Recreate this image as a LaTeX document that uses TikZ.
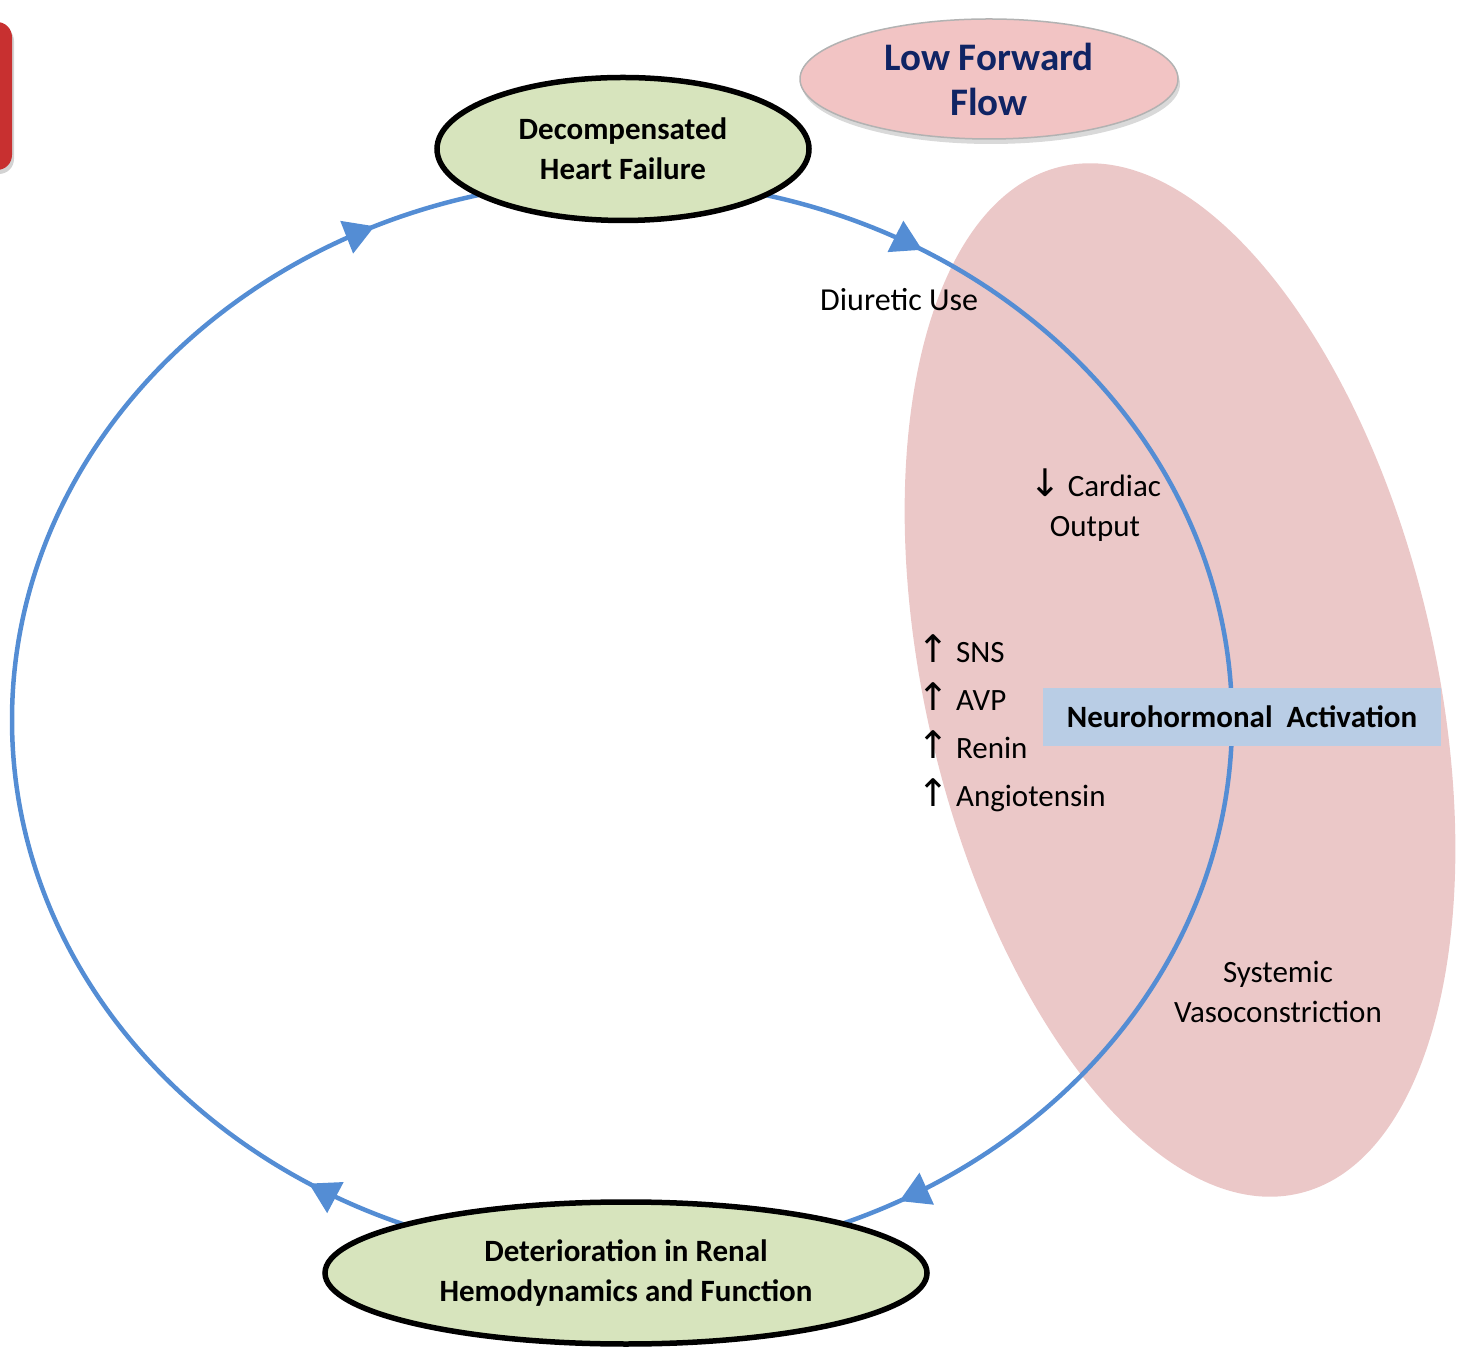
\documentclass[tikz,border=0pt]{standalone}
\usepackage{fontspec}
\setmainfont{Carlito}
\newfontfamily\arrowfont{DejaVu Sans}
\usetikzlibrary{shapes.geometric,arrows.meta,decorations.markings,shadows}
\definecolor{cyc}{RGB}{84,141,212}
\definecolor{greenfill}{RGB}{215,228,189}
\definecolor{pinkbig}{RGB}{235,200,200}
\definecolor{pinkflow}{RGB}{242,196,196}
\definecolor{navytext}{RGB}{16,36,100}
\definecolor{bluebox}{RGB}{185,205,229}
\definecolor{redbtn}{RGB}{200,48,48}
\newcommand{\uparr}{{\arrowfont\fontsize{38}{40}\selectfont ↑}}
\newcommand{\downarr}{{\arrowfont\fontsize{38}{40}\selectfont ↓}}
\begin{document}
\begin{tikzpicture}[x=1pt,y=1pt,
  stage/.style={ellipse, draw=black, line width=5.5pt, fill=greenfill,
    font=\bfseries\fontsize{31}{40}\selectfont, align=center, inner sep=0pt},
  cycline/.style={draw=cyc, line width=4.5pt},
  arrowmarks/.style 2 args={postaction={decorate}, decoration={markings,
    mark=at position #1 with {\arrow{Triangle[length=30pt,width=34pt]}},
    mark=at position #2 with {\arrow{Triangle[length=30pt,width=34pt]}}}},
  lbl/.style={font=\fontsize{31}{40}\selectfont, align=center, inner sep=0pt},
  item/.style={font=\fontsize{31}{40}\selectfont, anchor=base west, inner sep=0pt},
]
\useasboundingbox (0,0) rectangle (1464,1350);
% red button at the left edge
\fill[redbtn, rounded corners=15pt, drop shadow={shadow xshift=2pt, shadow yshift=-4pt, opacity=0.35}] (-60,1180) rectangle (12,1328);
% large pink region
\fill[pinkbig, rotate around={13:(1180,670)}] (1180,670) ellipse [x radius=255, y radius=527];
% cycle
\coordinate (O) at (622,630);
\coordinate (topP) at (622,1170);
\coordinate (botP) at (622,90);
\draw[cycline, arrowmarks={0.172}{0.842}] (topP) arc[start angle=90, end angle=-90, x radius=610, y radius=540];
\draw[cycline, arrowmarks={0.18}{0.86}] (botP) arc[start angle=270, end angle=90, x radius=610, y radius=540];
% nodes
\node[stage, minimum width=372, minimum height=143] (hf) at (623,1201) {Decompensated\\Heart Failure};
\node[stage, minimum width=602, minimum height=142] (renal) at (626,77) {Deterioration in Renal\\Hemodynamics and Function};
\node[ellipse, draw=black!30, line width=1.5pt, fill=pinkflow, minimum width=378, minimum height=120,
  drop shadow={shadow xshift=2pt, shadow yshift=-5pt, opacity=0.3},
  font=\bfseries\fontsize{39}{45}\selectfont, text=navytext, align=center, inner sep=0pt] (lff) at (989,1271) {Low Forward\\Flow};
\node[fill=bluebox, minimum width=398, minimum height=58, inner sep=0pt,
  font=\bfseries\fontsize{31}{40}\selectfont] (neuro) at (1242,633) {Neurohormonal\ \ Activation};
% labels
\node[item, font=\fontsize{32}{40}\selectfont] (diur) at (820,1039) {Diuretic Use};
\node[lbl] (co) at (1095,845) {\downarr\ Cardiac\\Output};
\node[item] (sns) at (917,687) {\uparr\ SNS};
\node[item] (avp) at (917,639) {\uparr\ AVP};
\node[item] (ren) at (917,591) {\uparr\ Renin};
\node[item] (ang) at (917,543) {\uparr\ Angiotensin};
\node[lbl] (sv) at (1278,358) {Systemic\\Vasoconstriction};
\end{tikzpicture}
\end{document}
